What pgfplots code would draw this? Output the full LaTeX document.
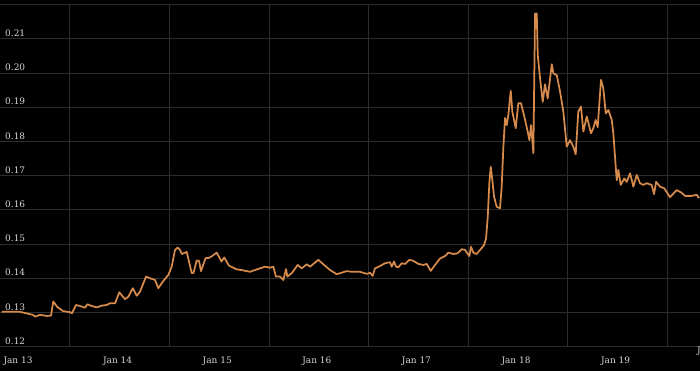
\documentclass[border=0pt]{standalone}
\usepackage{fontspec}
\setmainfont{DejaVu Serif}
\usepackage{pgfplots}
\pgfplotsset{compat=1.18}
\definecolor{bg}{RGB}{0,0,0}
\definecolor{gridc}{RGB}{44,44,44}
\definecolor{linec}{RGB}{214,138,76}
\definecolor{txt}{RGB}{215,215,215}
\begin{document}
\begin{tikzpicture}
\fill[bg] (0,0) rectangle (700bp,371bp);
\begin{axis}[
 at={(0bp,24.3bp)}, anchor=south west,
 scale only axis, width=700bp, height=342bp,
 xmin=-0.181, xmax=6.847, ymin=0.12, ymax=0.22,
 axis line style={draw=none},
 major tick length=0pt,
 xtick={0,1,2,3,4,5,6},
 xticklabels={Jan 13,Jan 14,Jan 15,Jan 16,Jan 17,Jan 18,Jan 19},
 extra x ticks={0.521,1.521,2.521,3.521,4.521,5.521,6.521},
 extra x tick labels={},
 extra x tick style={grid=major},
 ytick={0.12,0.13,0.14,0.15,0.16,0.17,0.18,0.19,0.20,0.21,0.22},
 yticklabels={0.12,0.13,0.14,0.15,0.16,0.17,0.18,0.19,0.20,0.21,{}},
 ymajorgrids,
 grid style={gridc, line width=1.1bp},
 xticklabel style={font=\fontsize{9}{10}\selectfont, text=txt, anchor=north, inner sep=0pt, yshift=-10bp},
 yticklabel style={font=\fontsize{9}{10}\selectfont, text=txt, anchor=south west, inner sep=0pt, xshift=5bp, yshift=2bp},
]
\addplot[linec, line width=1.75bp, line join=round] table {
x y
-0.164 0.1302
0.020 0.1302
0.151 0.1293
0.171 0.1288
0.221 0.1293
0.291 0.1290
0.331 0.1291
0.354 0.1332
0.392 0.1317
0.452 0.1304
0.522 0.1301
0.542 0.1298
0.582 0.1322
0.622 0.1319
0.673 0.1314
0.696 0.1324
0.740 0.1319
0.790 0.1315
0.840 0.1320
0.891 0.1322
0.924 0.1327
0.974 0.1327
1.017 0.1359
1.074 0.1339
1.107 0.1346
1.152 0.1371
1.192 0.1349
1.225 0.1361
1.285 0.1405
1.325 0.1400
1.376 0.1395
1.409 0.1371
1.453 0.1390
1.509 0.1410
1.543 0.1434
1.576 0.1483
1.603 0.1490
1.627 0.1483
1.644 0.1471
1.694 0.1477
1.744 0.1415
1.762 0.1416
1.794 0.1452
1.817 0.1451
1.837 0.1421
1.883 0.1459
1.913 0.1459
1.943 0.1464
1.995 0.1475
2.043 0.1449
2.070 0.1461
2.118 0.1437
2.196 0.1426
2.246 0.1424
2.329 0.1419
2.397 0.1426
2.480 0.1434
2.530 0.1431
2.563 0.1434
2.590 0.1405
2.631 0.1405
2.664 0.1395
2.691 0.1427
2.704 0.1405
2.748 0.1415
2.808 0.1439
2.848 0.1429
2.899 0.1441
2.932 0.1434
3.015 0.1454
3.065 0.1441
3.133 0.1424
3.200 0.1412
3.233 0.1415
3.300 0.1421
3.350 0.1419
3.434 0.1419
3.501 0.1413
3.534 0.1416
3.561 0.1407
3.584 0.1429
3.635 0.1436
3.685 0.1444
3.735 0.1447
3.752 0.1434
3.775 0.1449
3.795 0.1434
3.818 0.1432
3.852 0.1444
3.886 0.1442
3.929 0.1454
3.969 0.1451
4.019 0.1442
4.069 0.1439
4.103 0.1442
4.144 0.1422
4.187 0.1439
4.237 0.1458
4.287 0.1465
4.320 0.1475
4.371 0.1471
4.411 0.1473
4.455 0.1485
4.488 0.1483
4.511 0.1473
4.531 0.1465
4.548 0.1492
4.571 0.1475
4.605 0.1471
4.639 0.1483
4.679 0.1497
4.699 0.1517
4.716 0.1580
4.732 0.1678
4.746 0.1726
4.762 0.1687
4.779 0.1639
4.806 0.1609
4.839 0.1605
4.856 0.1668
4.873 0.1785
4.890 0.1869
4.907 0.1848
4.923 0.1878
4.947 0.1948
4.963 0.1887
4.997 0.1839
5.023 0.1912
5.050 0.1912
5.083 0.1873
5.117 0.1829
5.134 0.1804
5.151 0.1848
5.174 0.1766
5.191 0.2174
5.208 0.2174
5.218 0.2053
5.241 0.1985
5.268 0.1916
5.291 0.1967
5.318 0.1926
5.359 0.2026
5.375 0.1999
5.409 0.1994
5.442 0.1946
5.475 0.1887
5.509 0.1785
5.542 0.1804
5.575 0.1785
5.599 0.1763
5.625 0.1887
5.652 0.1902
5.676 0.1829
5.710 0.1873
5.753 0.1824
5.776 0.1839
5.800 0.1863
5.820 0.1842
5.853 0.1980
5.876 0.1956
5.901 0.1882
5.927 0.1892
5.961 0.1863
5.977 0.1824
6.001 0.1726
6.011 0.1687
6.027 0.1717
6.051 0.1673
6.087 0.1692
6.111 0.1682
6.145 0.1707
6.178 0.1668
6.212 0.1702
6.245 0.1678
6.278 0.1673
6.312 0.1678
6.362 0.1673
6.386 0.1646
6.406 0.1682
6.446 0.1668
6.489 0.1663
6.546 0.1637
6.613 0.1658
6.663 0.1650
6.697 0.1641
6.764 0.1641
6.815 0.1644
6.837 0.1634
};
\end{axis}
\node[anchor=north west, inner sep=0pt, text=txt, font=\fontsize{9}{10}\selectfont] at (697bp,24bp) {J};
\pgfresetboundingbox
\useasboundingbox (0,0) rectangle (700bp,371bp);
\end{tikzpicture}
\end{document}
